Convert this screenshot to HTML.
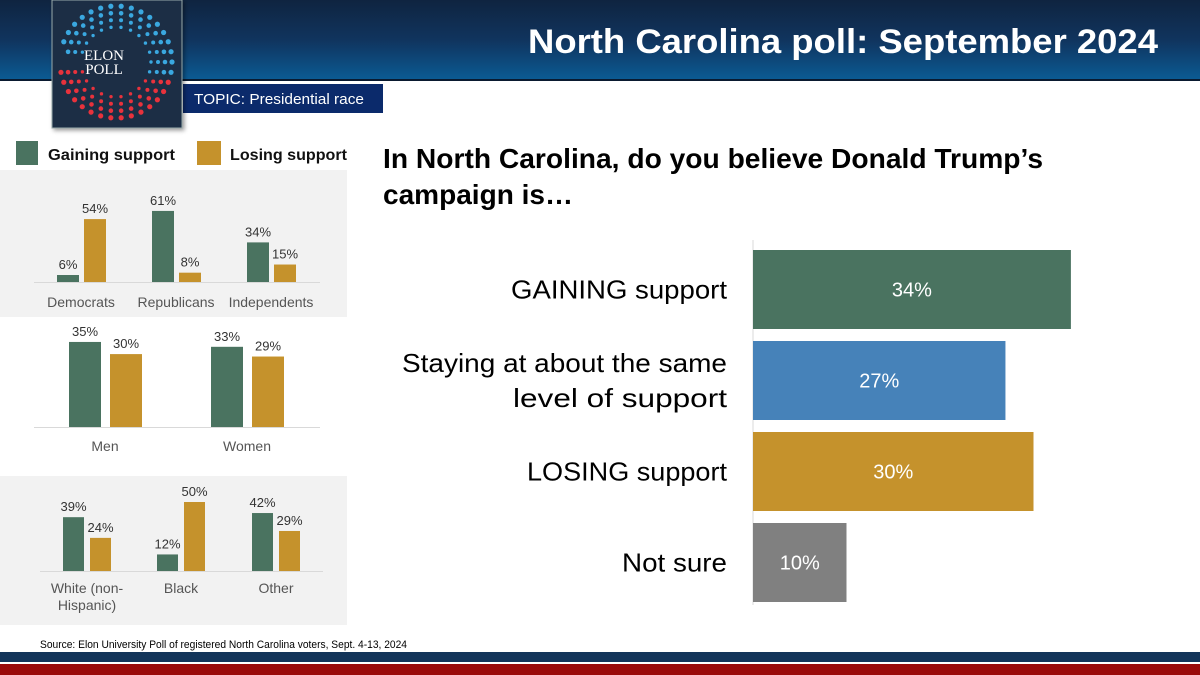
<!DOCTYPE html>
<html><head><meta charset="utf-8"><style>
html,body{margin:0;padding:0;background:#fff;}
svg{display:block;font-family:"Liberation Sans",sans-serif;}
</style></head><body>
<svg id="root" width="1200" height="675" viewBox="0 0 1200 675">
<defs>
<linearGradient id="hdr" x1="0" y1="0" x2="0" y2="1"><stop offset="0" stop-color="#0f2440"/><stop offset="0.5" stop-color="#10345e"/><stop offset="1" stop-color="#0b5b94"/></linearGradient>
<filter id="sh" x="-10%" y="-10%" width="130%" height="130%"><feDropShadow dx="2" dy="2" stdDeviation="2" flood-opacity="0.4"/></filter>
</defs>
<rect x="0" y="0" width="1200" height="80" fill="url(#hdr)"/>
<rect x="0" y="79" width="1200" height="2" fill="#0a1a30"/>
<text x="1158" y="53" text-anchor="end" font-size="34" font-weight="bold" fill="#fff" textLength="630" lengthAdjust="spacingAndGlyphs">North Carolina poll: September 2024</text>
<rect x="183" y="84" width="200" height="29" fill="#0b2a6b"/>
<text x="194" y="104" font-size="15" fill="#fff" textLength="170" lengthAdjust="spacingAndGlyphs">TOPIC: Presidential race</text>
<g id="logo">
<rect x="52" y="0" width="130" height="128" fill="#1a2e44" stroke="#9aa" stroke-width="1" filter="url(#sh)"/>
<text x="104" y="60" text-anchor="middle" font-family="Liberation Serif,serif" font-size="15" fill="#fff">ELON</text>
<text x="104" y="74" text-anchor="middle" font-family="Liberation Serif,serif" font-size="15" fill="#fff">POLL</text>
</g>

<rect x="16" y="141" width="22" height="24" fill="#4a7360"/>
<text x="48" y="160" font-size="16" font-weight="bold" fill="#111" textLength="127" lengthAdjust="spacingAndGlyphs">Gaining support</text>
<rect x="197" y="141" width="24" height="24" fill="#c5922c"/>
<text x="230" y="160" font-size="16" font-weight="bold" fill="#111" textLength="117" lengthAdjust="spacingAndGlyphs">Losing support</text>

<rect x="0" y="170" width="347" height="147" fill="#f2f2f2"/>
<rect x="0" y="318" width="347" height="157" fill="#fff"/>
<rect x="0" y="476" width="347" height="149" fill="#f2f2f2"/>
<g id="small"></g>

<text x="383" y="168" font-size="28" font-weight="bold" fill="#000" textLength="660" lengthAdjust="spacingAndGlyphs">In North Carolina, do you believe Donald Trump’s</text>
<text x="383" y="204" font-size="28" font-weight="bold" fill="#000" textLength="190" lengthAdjust="spacingAndGlyphs">campaign is…</text>
<g id="main"></g>

<text x="40" y="648" font-size="11" fill="#000" textLength="367" lengthAdjust="spacingAndGlyphs">Source: Elon University Poll of registered North Carolina voters, Sept. 4-13, 2024</text>
<rect x="0" y="652" width="1200" height="10" fill="#13355a"/>
<rect x="0" y="664" width="1200" height="11" fill="#9a0a0a"/>
</svg>
<script>
const NS="http://www.w3.org/2000/svg";
// main chart data
const mainCats=["GAINING support","Staying at about the same|level of support","LOSING support","Not sure"];
const mainVals=[34,27,30,10];
const mainColors=["#4a7360","#4682b9","#c5922c","#808080"];
// small chart data
const partyCats=["Democrats","Republicans","Independents"];
const partyGain=[6,61,34];
const partyLose=[54,8,15];
const genderCats=["Men","Women"];
const genderGain=[35,33];
const genderLose=[30,29];
const raceCats=["White (non-|Hispanic)","Black","Other"];
const raceGain=[39,12,42];
const raceLose=[24,50,29];

function mk(tag,attrs,parent){const e=document.createElementNS(NS,tag);for(const k in attrs)e.setAttribute(k,attrs[k]);parent.appendChild(e);return e;}

// logo dots
const logo=document.getElementById('logo');
const cx=116,cy=62;
[[56,34],[49,30],[42,26],[35,22]].forEach(([r,n],ri)=>{
  for(let i=0;i<n;i++){
    const a=-180+360*i/n;
    if(a>-200&&a<-168)continue;
    const rad=a*Math.PI/180;
    const blue=(a>=-168&&a<=18);
    const d=mk('circle',{cx:cx+r*Math.cos(rad),cy:cy+r*Math.sin(rad),r:2.6-ri*0.3,fill:blue?'#3aa8e0':'#e8323c'},logo);
    
    
  }
});

// main chart
const main=document.getElementById('main');
const x0=753, pxPer=9.35;
const xs=v=>x0+v*pxPer;
const bandTop=250, bandStep=91, barH=79;
const labelWidths={"GAINING support":216,"Staying at about the same":325,"level of support":214,"LOSING support":200,"Not sure":105};
const ax=mk('line',{x1:x0,y1:240,x2:x0,y2:605,stroke:'#d9d9d9','stroke-width':1},main);


mainCats.forEach((c,i)=>{
  const y=bandTop+i*bandStep;
  const r=mk('rect',{x:x0,y:y,width:xs(mainVals[i])-x0,height:barH,fill:mainColors[i]},main);
  
  
  const v=mk('text',{x:(x0+xs(mainVals[i]))/2,y:y+barH/2+7,'text-anchor':'middle','font-size':20,fill:'#fff'},main);
  v.textContent=mainVals[i]+'%';
  
  
  const lines=c.split('|');
  lines.forEach((ln,j)=>{
    const ly=y+barH/2+9+(j-(lines.length-1)/2)*35;
    const t=mk('text',{x:727,y:ly,'text-anchor':'end','font-size':26,fill:'#000',textLength:labelWidths[ln]||ln.length*13,lengthAdjust:'spacingAndGlyphs'},main);
    t.textContent=ln;
    
    
  });
});

// small charts
const small=document.getElementById('small');
function smallChart(cats,gain,lose,base,scale,centers,bw,gOff,lOff,axisX1,axisX2,labelY){
  mk('line',{x1:axisX1,y1:base+0.5,x2:axisX2,y2:base+0.5,stroke:'#d9d9d9','stroke-width':1},small);
  cats.forEach((c,i)=>{
    const cxp=centers[i];
    [[gain[i],gOff,'#4a7360','gain'],[lose[i],lOff,'#c5922c','lose']].forEach(([v,off,col,nm])=>{
      const h=v*scale;
      const r=mk('rect',{x:cxp+off,y:base-h,width:bw,height:h,fill:col},small);
      
      
      const t=mk('text',{x:cxp+off+bw/2,y:base-h-6,'text-anchor':'middle','font-size':13,fill:'#333'},small);
      t.textContent=v+'%';
      
      
    });
    c.split('|').forEach((ln,j)=>{
      const t=mk('text',{x:cxp,y:labelY+j*17,'text-anchor':'middle','font-size':14,fill:'#555'},small);
      t.textContent=ln;
      
      
    });
  });
}
smallChart(partyCats,partyGain,partyLose,282,1.165,[81,176,271],22,-24,3,34,320,307);
smallChart(genderCats,genderGain,genderLose,427,2.43,[105,247],32,-36,5,34,320,451);
smallChart(raceCats,raceGain,raceLose,571,1.38,[87,181,276],21,-24,3,40,323,593);
</script>
</body></html>
